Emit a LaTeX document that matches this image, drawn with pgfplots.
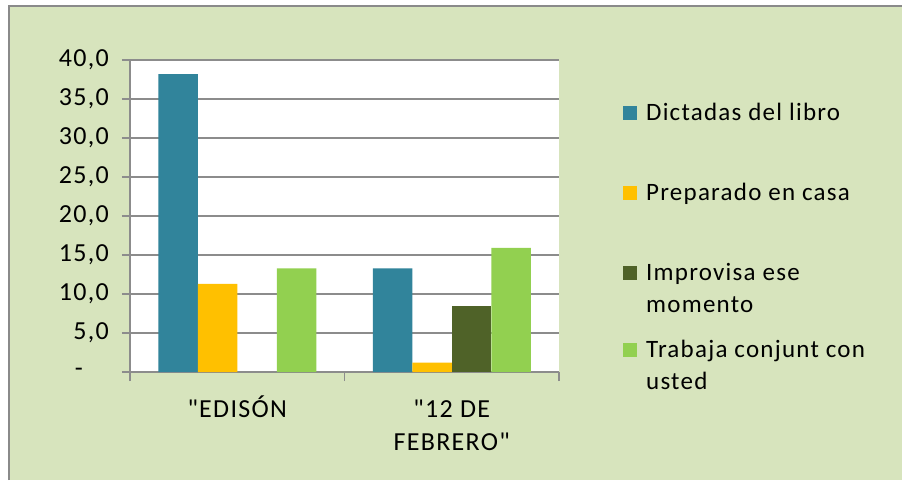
\documentclass[border=0pt]{standalone}
\usepackage{fontspec}
\setmainfont{Carlito}
\newfontfamily\cf[LetterSpace=5]{Carlito}
\usepackage{pgfplots}
\pgfplotsset{compat=1.18}
\definecolor{bg}{HTML}{D7E4BD}
\definecolor{c1}{HTML}{31849B}
\definecolor{c2}{HTML}{FFC000}
\definecolor{c3}{HTML}{4F6228}
\definecolor{c4}{HTML}{92D050}
\definecolor{gridc}{HTML}{8C8C8C}
\definecolor{bordc}{HTML}{8A8A8A}
\begin{document}
\begin{tikzpicture}[x=1pt,y=1pt]
\fill[white] (0,0) rectangle (902,480);
\fill[bg] (9,0) rectangle (902,474);
\draw[bordc, line width=2pt] (9,0) -- (9,474) -- (902,474);
\begin{axis}[
  at={(130pt,108pt)}, anchor=south west,
  scale only axis, width=429pt, height=312pt,
  xmin=-0.5, xmax=1.5, ymin=0, ymax=40,
  ybar=0pt, bar width=39.5pt,
  axis lines*=left,
  axis line style={-, draw=gridc, line width=1.6pt},
  axis background/.style={fill=white},
  ymajorgrids, grid style={draw=gridc, line width=1.6pt},
  ytick={0,5,10,15,20,25,30,35,40},
  yticklabels={{\hbox to 34pt{-\hfil}},{5,0},{10,0},{15,0},{20,0},{25,0},{30,0},{35,0},{40,0}},
  xtick={0,1},
  xticklabels={{\rule{0pt}{24pt}"EDISÓN},{\rule{0pt}{24pt}"12 DE\\FEBRERO"}},
  minor xtick={-0.5,0.5,1.5},
  tick align=outside,
  major tick length=8pt, minor tick length=9pt,
  tick style={draw=gridc, line width=1.6pt},
  major x tick style={draw=none},
  ticklabel style={font=\cf\fontsize{26}{33}\selectfont},
  yticklabel style={anchor=east, inner sep=0pt, xshift=-13pt},
  xticklabel style={anchor=north, inner sep=0pt, align=center, yshift=-13pt},
  legend style={draw=none, fill=none, inner sep=0pt, at={(1.149,0.872)}, anchor=north west,
    font=\cf\fontsize{25}{32}\selectfont, nodes={inner sep=0pt, text depth=}, column sep=9pt, row sep=0pt,
    cells={anchor=base west}},
  legend image code/.code={\fill[#1] (0pt,0pt) rectangle (14pt,14pt);},
]
\addplot[fill=c1, draw=none] coordinates {(0,38.2) (1,13.3)};
\addplot[fill=c2, draw=none] coordinates {(0,11.3) (1,1.2)};
\addplot[fill=c3, draw=none] coordinates {(1,8.4)};
\addplot[fill=c4, draw=none] coordinates {(0,13.3) (1,15.9)};
\addlegendentry{\raisebox{0pt}[20pt][60pt]{Dictadas del libro}}
\addlegendentry{\raisebox{0pt}[20pt][60pt]{Preparado en casa}}
\addlegendentry{\raisebox{0pt}[20pt][57pt]{\begin{tabular}[t]{@{}l@{}}Improvisa ese\\momento\end{tabular}}}
\addlegendentry{\raisebox{0pt}[20pt][40pt]{\begin{tabular}[t]{@{}l@{}}Trabaja conjunt con\\usted\end{tabular}}}
\end{axis}
\pgfresetboundingbox
\path[use as bounding box] (0,0) rectangle (902,480);
\end{tikzpicture}
\end{document}
